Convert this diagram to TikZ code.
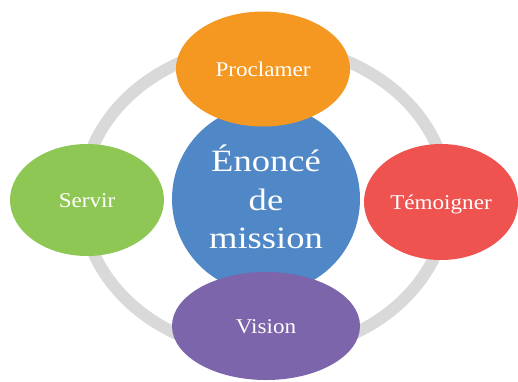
\documentclass[tikz,border=0pt]{standalone}
\usepackage{fontspec}
\setmainfont{Liberation Serif}
\newfontfamily\labelfont[FakeStretch=1.1]{Liberation Serif}
\newfontfamily\bigfont[FakeStretch=1.18]{Liberation Serif}
\usetikzlibrary{shapes.geometric}
\definecolor{ringgray}{RGB}{217,217,217}
\definecolor{mblue}{RGB}{80,135,198}
\definecolor{morange}{RGB}{244,152,33}
\definecolor{mgreen}{RGB}{143,199,84}
\definecolor{mred}{RGB}{238,83,80}
\definecolor{mpurple}{RGB}{124,101,170}
\begin{document}
\begin{tikzpicture}[x=1pt,y=-1pt,
  petal/.style={ellipse, inner sep=0pt, text=white,
    font=\labelfont\fontsize{21}{25}\selectfont,
    text height=14pt, text depth=0pt},
  ring/.style={draw=ringgray, line width=12pt}]
\useasboundingbox (0,0) rectangle (518,381);
\coordinate (ringc) at (265,199);
\draw[ring] (ringc) ellipse [x radius=183pt, y radius=154pt];
\node[circle, fill=mblue, minimum size=188pt, inner sep=0pt] (core) at (266,199) {};
\node[align=center, text=white, font=\bigfont\fontsize{31}{38.5}\selectfont] (coretext) at (266,197) {Énoncé\\de\\mission};
\node[petal, fill=morange, minimum width=174pt, minimum height=115pt] (proclamer) at (263,69) {Proclamer};
\node[petal, fill=mgreen, minimum width=154pt, minimum height=112pt] (servir) at (87,200) {Servir};
\node[petal, fill=mred, minimum width=154pt, minimum height=116pt] (temoigner) at (441,202) {Témoigner};
\node[petal, fill=mpurple, minimum width=188pt, minimum height=108pt] (vision) at (266,326) {Vision};
\end{tikzpicture}
\end{document}
